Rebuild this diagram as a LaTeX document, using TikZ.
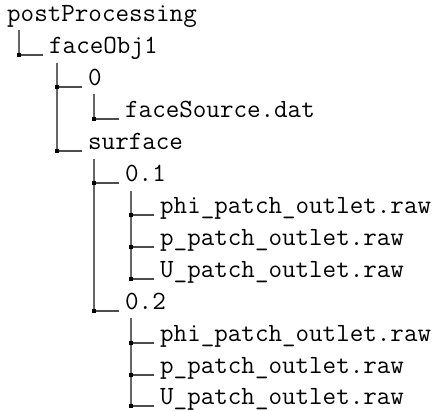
\documentclass[tikz,border=0pt]{standalone}
\begin{document}
\begin{tikzpicture}[x=1pt,y=-1pt,
  lbl/.style={anchor=base west,inner sep=0pt,font=\fontsize{26.3}{30}\selectfont\ttfamily},
  vline/.style={draw=black!60,line width=1.3pt},
  hline/.style={draw=black!70,line width=1.3pt},
  jsq/.style={fill=black}]
\useasboundingbox (0,0) rectangle (443,410);
% text nodes
\node[lbl] (pp)  at (7,21)    {postProcessing};
\node[lbl] (fo)  at (49,53)   {faceObj1};
\node[lbl] (z)   at (88,85)   {0};
\node[lbl] (fs)  at (125,117) {faceSource.dat};
\node[lbl] (sf)  at (88,149)  {surface};
\node[lbl] (t1)  at (125,181) {0.1};
\node[lbl] (a1)  at (160,213) {phi\_patch\_outlet.raw};
\node[lbl] (b1)  at (160,245) {p\_patch\_outlet.raw};
\node[lbl] (c1)  at (160,277) {U\_patch\_outlet.raw};
\node[lbl] (t2)  at (125,309) {0.2};
\node[lbl] (a2)  at (160,341) {phi\_patch\_outlet.raw};
\node[lbl] (b2)  at (160,373) {p\_patch\_outlet.raw};
\node[lbl] (c2)  at (160,404) {U\_patch\_outlet.raw};
% junction reference points (slightly below each text's baseline)
\foreach \c in {fo,z,fs,sf,t1,a1,b1,c1,t2,a2,b2,c2}
  \coordinate (j\c) at ([yshift=-2pt]\c.base west);
% vertical line tops
\coordinate (vpp) at (19,30);
\coordinate (vfo) at (57,63);
\coordinate (vz)  at (94,94);
\coordinate (vsf) at (94,159);
\coordinate (vt1) at (131,191);
\coordinate (vt2) at (131,318);
% verticals
\draw[vline] (vpp) -- (vpp |- jfo);
\draw[vline] (vfo) -- (vfo |- jsf);
\draw[vline] (vz)  -- (vz |- jfs);
\draw[vline] (vsf) -- (vsf |- jt2);
\draw[vline] (vt1) -- (vt1 |- jc1);
\draw[vline] (vt2) -- (vt2 |- jc2);
% horizontals with junction squares
\foreach \v/\c in {vpp/fo, vfo/z, vfo/sf, vz/fs, vsf/t1, vsf/t2, vt1/a1, vt1/b1, vt1/c1, vt2/a2, vt2/b2, vt2/c2}{
  \draw[hline] (\v |- j\c) -- ([xshift=-6pt]j\c);
  \fill[jsq] (\v |- j\c) ++(-2,-2) rectangle ++(4,4);
}
\end{tikzpicture}
\end{document}
